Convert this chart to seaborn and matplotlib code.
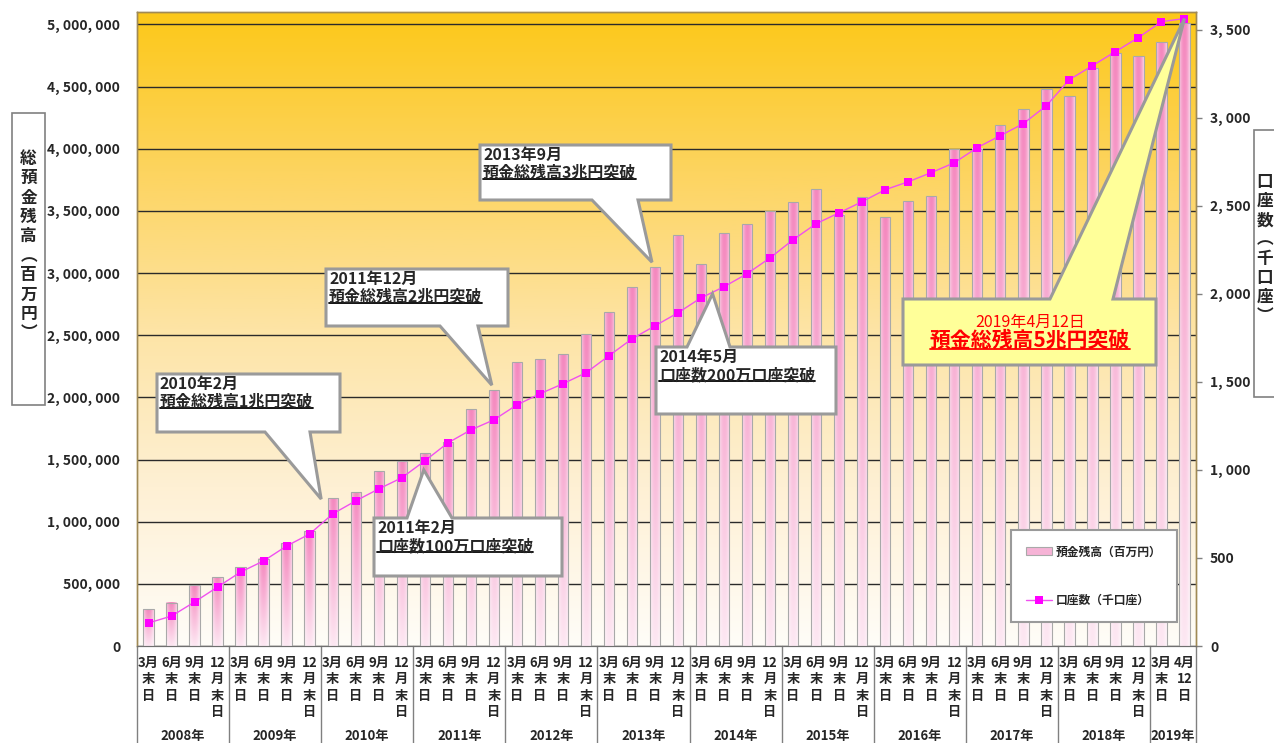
import numpy as np
import pandas as pd
import matplotlib.pyplot as plt
import seaborn as sns
from matplotlib.colors import LinearSegmentedColormap
from matplotlib.patches import Polygon, Rectangle
from matplotlib.lines import Line2D

# --- data ---
years = ['2008年', '2009年', '2010年', '2011年', '2012年', '2013年',
         '2014年', '2015年', '2016年', '2017年', '2018年', '2019年']
quarters = ['3月\n末\n日', '6月\n末\n日', '9月\n末\n日', '12\n月\n末\n日']
last_quarters = ['3月\n末\n日', '4月\n12\n日']
period_labels = quarters * 11 + last_quarters
period_years = [y for y in years[:-1] for _ in range(4)] + [years[-1]] * 2

# 預金残高（百万円）
deposits = [297000, 346000, 490000, 555000,
            632000, 700000, 828000, 925000,
            1190000, 1238000, 1407000, 1487000,
            1551000, 1640000, 1905000, 2058000,
            2283000, 2307000, 2347000, 2508000,
            2685000, 2886000, 3047000, 3304000,
            3071000, 3320000, 3392000, 3497000,
            3569000, 3674000, 3470000, 3609000,
            3448000, 3577000, 3617000, 3995000,
            4000000, 4188000, 4317000, 4477000,
            4421000, 4646000, 4767000, 4743000,
            4855000, 5010000]

# 口座数（千口座）
accounts = [131, 170, 250, 335,
            420, 483, 568, 636,
            750, 824, 892, 955,
            1051, 1153, 1227, 1284,
            1369, 1432, 1489, 1551,
            1648, 1744, 1818, 1892,
            1977, 2040, 2114, 2204,
            2307, 2398, 2460, 2523,
            2591, 2636, 2688, 2744,
            2830, 2898, 2966, 3068,
            3216, 3295, 3375, 3455,
            3545, 3563]

df = pd.DataFrame({'idx': np.arange(len(deposits)), 'deposit': deposits,
                   'account': accounts, 'year': period_years})

W, H = 1274, 743
sns.set_style('white')
plt.rcParams['font.family'] = ['Noto Sans CJK JP', 'DejaVu Sans']

fig = plt.figure(figsize=(W / 100, H / 100), dpi=100)


def px(x, y):
    # pixel position (y from top) -> figure fraction
    return x / W, 1 - y / H


left, right, top, bottom = 137, 1196, 12, 646
rect = [left / W, 1 - bottom / H, (right - left) / W, (bottom - top) / H]

# gradient background of the plot area
bg = fig.add_axes(rect, zorder=-1)
bg_cmap = LinearSegmentedColormap.from_list(
    'bg', [(0.0, '#fffdf8'), (0.25, '#fef0d4'), (0.5, '#fde4a5'),
           (0.75, '#fdd45f'), (1.0, '#fcc819')])
bg.imshow(np.linspace(1, 0, 256)[:, None], aspect='auto', cmap=bg_cmap,
          extent=[0, 1, 0, 1])
bg.axis('off')

ax = fig.add_axes(rect)
ax.patch.set_alpha(0)

pink = np.array([244, 136, 190]) / 255
sns.barplot(data=df, x='idx', y='deposit', ax=ax, color='#f6b3d6',
            width=0.45, edgecolor='#a9a9a9', linewidth=0.8, saturation=1,
            zorder=3)

# pink cylinder-like gradient inside each bar
u = np.linspace(0, 1, 24)
hprof = 1 - 0.6 * (2 * u - 1) ** 2
v = np.linspace(1, 0, 64)[:, None]
vprof = 0.2 + 0.8 * v
shade = (hprof[None, :] * vprof)[..., None]
bar_img = 1 - shade * (1 - pink)
for p in list(ax.patches):
    x0, w, h = p.get_x(), p.get_width(), p.get_height()
    ax.imshow(bar_img, extent=[x0, x0 + w, 0, h], aspect='auto',
              zorder=2.9, interpolation='bilinear')
    p.set_facecolor('none')

ax.set_xlim(-0.5, len(deposits) - 0.5)
ax.set_ylim(0, 5_100_000)
left_ticks = np.arange(0, 5_000_001, 500_000)
ax.set_yticks(left_ticks)
ax.set_yticklabels([f'{t:,}'.replace(',', ', ') for t in left_ticks],
                   fontsize=10, fontweight='bold')
ax.grid(axis='y', color='#2a2a2a', lw=1)
ax.set_axisbelow(True)
ax.tick_params(axis='y', length=0, pad=12)

ax.set_xticks(df['idx'])
ax.set_xticklabels(period_labels, fontsize=9.5, fontweight='bold',
                   linespacing=1.22, va='top')
ax.tick_params(axis='x', length=0, pad=7)
ax.set_xlabel('')
ax.set_ylabel('')

# year labels and separators below the axis
for yr in years:
    idxs = df.loc[df['year'] == yr, 'idx']
    ax.text(idxs.mean(), -0.142, yr, transform=ax.get_xaxis_transform(),
            ha='center', va='center', fontsize=9.5, fontweight='bold')
bounds = [-0.5] + [df.loc[df['year'] == yr, 'idx'].max() + 0.5 for yr in years]
for b in bounds:
    ax.plot([b, b], [0, -0.16], transform=ax.get_xaxis_transform(),
            color='#808080', lw=1, clip_on=False)

ax2 = ax.twinx()
sns.lineplot(data=df, x='idx', y='account', ax=ax2, color='#f050f0', lw=1,
             marker='s', markersize=6, markerfacecolor='#ff00ff',
             markeredgewidth=0, zorder=4)
ax2.set_xlim(-0.5, len(deposits) - 0.5)
ax2.set_ylim(0, 3600)
right_ticks = np.arange(0, 3501, 500)
ax2.set_yticks(right_ticks)
ax2.set_yticklabels([f'{t:,}'.replace(',', ', ') for t in right_ticks],
                    fontsize=10, fontweight='bold')
ax2.tick_params(axis='y', length=4, width=1, color='#808080', pad=6,
                direction='out')
ax2.set_ylabel('')
ax2.set_xlabel('')

for a in (ax, ax2):
    for side in ('top', 'left', 'right'):
        a.spines[side].set_color('#a08a55')
        a.spines[side].set_linewidth(1)
    a.spines['bottom'].set_color('#707070')

# legend
handles = [Rectangle((0, 0), 1, 1, fc='#f6b3d6', ec='#a9a9a9', lw=0.8),
           Line2D([], [], color='#f050f0', lw=1, marker='s', markersize=6,
                  markerfacecolor='#ff00ff', markeredgewidth=0)]
leg = ax2.legend(handles, ['預金残高（百万円）', '口座数（千口座）'],
                 loc='upper left', bbox_to_anchor=px(1011, 530),
                 bbox_transform=fig.transFigure, frameon=True, fancybox=False,
                 edgecolor='#9a9a9a', framealpha=1, borderpad=1.3,
                 labelspacing=3.0, handlelength=2.2, handletextpad=0.3,
                 borderaxespad=0, prop={'size': 8.5, 'weight': 'bold'})
leg.get_frame().set_linewidth(1.5)


def data_px(axis, x, y, dx=0, dy=0):
    X, Y = axis.transData.transform((x, y))
    return X + dx, H - Y + dy


def callout(box, base, tip, side, face='white'):
    x0, y0, x1, y1 = box
    b0, b1 = base
    tx, ty = tip
    if side == 'bottom':
        pts = [(x0, y0), (x1, y0), (x1, y1), (b1, y1), (tx, ty), (b0, y1), (x0, y1)]
    else:
        pts = [(x0, y0), (b0, y0), (tx, ty), (b1, y0), (x1, y0), (x1, y1), (x0, y1)]
    fig.add_artist(Polygon([px(*p) for p in pts], closed=True,
                           transform=fig.transFigure, fc=face, ec='#9a9a9a',
                           lw=2.2, joinstyle='miter'))


underlined = []


def box_text(x, y, line1, line2):
    fig.text(*px(x, y), line1, ha='left', va='top', fontsize=11.5,
             fontweight='bold')
    t = fig.text(*px(x, y + 18), line2, ha='left', va='top', fontsize=11.5,
                 fontweight='bold')
    underlined.append((t, 'black'))


callout((157, 374, 340, 432), (265, 310), data_px(ax, 7.5, deposits[8], 0, 1), 'bottom')
box_text(160, 376, '2010年2月', '預金総残高1兆円突破')

callout((374, 518, 562, 576), (407, 452), data_px(ax2, 12, accounts[12], -1, 9), 'top')
box_text(377, 520, '2011年2月', '口座数100万口座突破')

callout((326, 269, 508, 326), (440, 478), data_px(ax, 15, deposits[15], -2, -5), 'bottom')
box_text(329, 271, '2011年12月', '預金総残高2兆円突破')

callout((480, 145, 671, 200), (592, 638), data_px(ax, 22, deposits[22], -3, -5), 'bottom')
box_text(483, 147, '2013年9月', '預金総残高3兆円突破')

callout((656, 347, 836, 414), (687, 730), data_px(ax2, 24.5, 2000), 'top')
box_text(659, 349, '2014年5月', '口座数200万口座突破')

callout((903, 299, 1156, 365), (1050, 1113), data_px(ax2, 45, accounts[45]),
        'top', face='#ffff99')
fig.text(*px(1030, 322), '2019年4月12日', ha='center', va='center',
         fontsize=11.5, color='#ff0000')
t5 = fig.text(*px(1030, 340), '預金総残高5兆円突破', ha='center', va='center',
              fontsize=15, fontweight='bold', color='#ff0000')
underlined.append((t5, '#ff0000'))

# axis title boxes
fig.add_artist(Rectangle(px(12, 405), 33 / W, 292 / H, transform=fig.transFigure,
                         fc='white', ec='#808080', lw=1.2))
fig.text(*px(28.5, 246), '総\n預\n金\n残\n高\n︵\n百\n万\n円\n︶', ha='center',
         va='center', fontsize=12, fontweight='bold', linespacing=1.1)
fig.add_artist(Rectangle(px(1254, 397), 40 / W, 267 / H, transform=fig.transFigure,
                         fc='white', ec='#808080', lw=1.2))
fig.text(*px(1265, 249), '口\n座\n数\n︵\n千\n口\n座\n︶', ha='center',
         va='center', fontsize=12, fontweight='bold', linespacing=1.08)

# underline the second lines of the callouts
fig.canvas.draw()
renderer = fig.canvas.get_renderer()
for t, col in underlined:
    bb = t.get_window_extent(renderer)
    yline = (bb.y0 + 2) / H
    fig.add_artist(Line2D([bb.x0 / W, bb.x1 / W], [yline, yline],
                          transform=fig.transFigure, color=col, lw=1.3))

fig.savefig('out.png', dpi=100)
